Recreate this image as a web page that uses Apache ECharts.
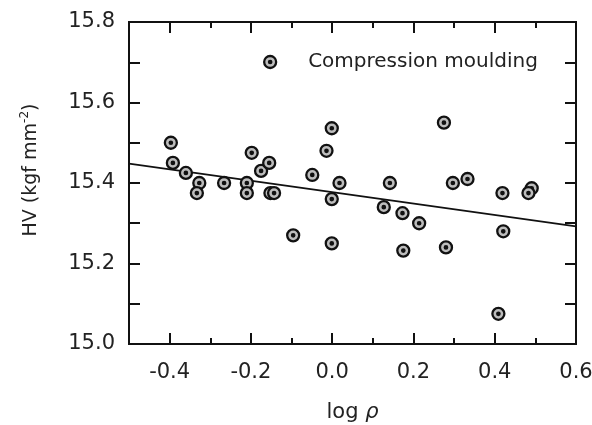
<!DOCTYPE html>
<html>
<head>
<meta charset="utf-8">
<script src="https://cdn.jsdelivr.net/npm/echarts@6/dist/echarts.min.js"></script>
<style>
html,body{margin:0;padding:0;background:#fff;}
#chart{width:592px;height:425px;}
</style>
</head>
<body>
<div id="chart"></div>
<script>
// ---- data ----
var logRho = [-0.397,-0.392,-0.360,-0.327,-0.333,-0.266,-0.210,-0.210,-0.198,-0.175,-0.155,-0.152,-0.143,-0.049,-0.014,-0.001,0.018,-0.001,-0.096,-0.001,0.275,0.142,0.297,0.333,0.419,0.491,0.483,0.127,0.173,0.214,0.421,0.175,0.280,0.409];
var hv = [15.50,15.45,15.425,15.40,15.375,15.40,15.40,15.375,15.475,15.43,15.45,15.375,15.375,15.42,15.48,15.536,15.40,15.36,15.27,15.25,15.55,15.40,15.40,15.41,15.375,15.387,15.375,15.34,15.325,15.30,15.28,15.232,15.24,15.075];
var fitX = [-0.5, 0.6];
var fitY = [15.448, 15.292];
var xTickLabels = [-0.4, -0.2, 0.0, 0.2, 0.4, 0.6];
var xMajorTicks = [-0.4, -0.2, 0.0, 0.2, 0.4];
var xMinorTicks = [-0.3, -0.1, 0.1, 0.3, 0.5];
var seriesName = 'Compression moulding';

var FONT = 'DejaVu Sans';
var TXT = '#222';
var symbolPath = 'path://M0,10A10,10 0 1,1 20,10A10,10 0 1,1 0,10Z M8,10A2,2 0 1,1 12,10A2,2 0 1,1 8,10Z';

var scatterData = logRho.map(function (x, i) { return [x, hv[i]]; });
var fitData = fitX.map(function (x, i) { return [x, fitY[i]]; });

function xAxisBase(pos) {
  return {
    type: 'value', position: pos, min: -0.5, max: 0.6,
    axisLine: { show: true, onZero: false, lineStyle: { color: '#111', width: 2 } },
    splitLine: { show: false },
    axisLabel: { show: false },
    axisTick: { show: true, inside: true, length: 11, lineStyle: { color: '#111', width: 2 } }
  };
}
var xMajB = xAxisBase('bottom');
xMajB.axisTick.customValues = xMajorTicks;
xMajB.axisLabel = {
  show: true, customValues: xTickLabels, margin: 18,
  fontSize: 21, fontFamily: FONT, color: TXT,
  formatter: function (v) { return v.toFixed(1); }
};
xMajB.name = 'log {i|ρ}';
xMajB.nameLocation = 'middle';
xMajB.nameGap = 58;
xMajB.nameTextStyle = { fontSize: 21, fontFamily: FONT, color: TXT,
  rich: { i: { fontSize: 21, fontFamily: FONT, fontStyle: 'italic', color: TXT } } };
var xMinB = xAxisBase('bottom');
xMinB.axisTick.customValues = xMinorTicks; xMinB.axisTick.length = 6;
var xMajT = xAxisBase('top');
xMajT.axisTick.customValues = xMajorTicks;
var xMinT = xAxisBase('top');
xMinT.axisTick.customValues = xMinorTicks; xMinT.axisTick.length = 6;

function yAxisBase(pos) {
  return {
    type: 'value', position: pos, min: 15.0, max: 15.8, interval: 0.2,
    axisLine: { show: true, onZero: false, lineStyle: { color: '#111', width: 2 } },
    splitLine: { show: false }, minorSplitLine: { show: false },
    axisLabel: { show: false },
    axisTick: { show: true, inside: true, length: 11, lineStyle: { color: '#111', width: 2 } },
    minorTick: { show: true, splitNumber: 2, length: 11, lineStyle: { color: '#111', width: 2 } }
  };
}
var yL = yAxisBase('left');
yL.axisLabel = { show: true, margin: 14, fontSize: 21, fontFamily: FONT, color: TXT,
  formatter: function (v) { return v.toFixed(1); } };
yL.name = 'HV (kgf mm{sup|-2})';
yL.nameLocation = 'middle';
yL.nameGap = 86;
yL.nameTextStyle = { fontSize: 19, fontFamily: FONT, color: TXT, lineHeight: 24, padding: [0, 0, 0, 26],
  rich: { sup: { fontSize: 12, fontFamily: FONT, color: TXT, verticalAlign: 'top', lineHeight: 14 } } };
var yR = yAxisBase('right');

var chart = echarts.init(document.getElementById('chart'), null, { renderer: 'canvas' });
chart.setOption({
  animation: false,
  backgroundColor: '#fff',
  grid: { left: 129, right: 16, top: 22, bottom: 81, containLabel: false, outerBoundsMode: 'none' },
  legend: {
    show: true, data: [seriesName], left: 263, top: 52, padding: 0,
    itemWidth: 12, itemHeight: 12, icon: symbolPath,
    textStyle: { fontSize: 20, fontFamily: FONT, color: TXT, padding: [0, 0, 0, 27] },
    itemStyle: { color: '#bdbdbd', borderColor: '#111', borderWidth: 2.3 }
  },
  xAxis: [xMajB, xMinB, xMajT, xMinT],
  yAxis: [yL, yR],
  series: [
    {
      type: 'line', name: 'fit', data: fitData, xAxisIndex: 0, yAxisIndex: 0,
      showSymbol: false, symbol: 'none', lineStyle: { color: '#111', width: 1.8 }, z: 2, silent: true
    },
    {
      type: 'scatter', name: seriesName, data: scatterData, xAxisIndex: 0, yAxisIndex: 0,
      symbol: symbolPath, symbolSize: 12,
      itemStyle: { color: '#bdbdbd', borderColor: '#111', borderWidth: 2.3, opacity: 1 },
      z: 3
    }
  ]
});
</script>
</body>
</html>
